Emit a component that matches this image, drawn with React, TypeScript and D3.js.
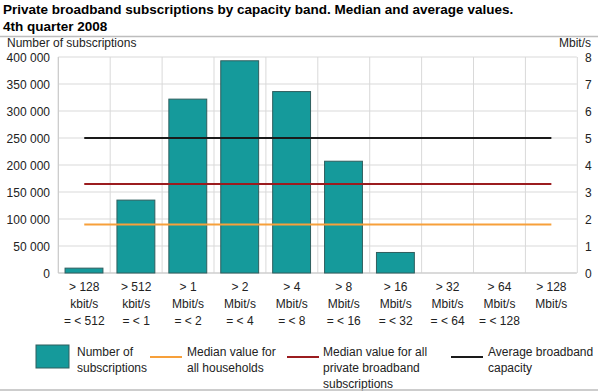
import React from "react";
import * as d3 from "d3";

const categories = [
  ["> 128", "kbit/s", "= < 512"],
  ["> 512", "kbit/s", "= < 1"],
  ["> 1", "Mbit/s", "= < 2"],
  ["> 2", "Mbit/s", "= < 4"],
  ["> 4", "Mbit/s", "= < 8"],
  ["> 8", "Mbit/s", "= < 16"],
  ["> 16", "Mbit/s", "= < 32"],
  ["> 32", "Mbit/s", "= < 64"],
  ["> 64", "Mbit/s", "= < 128"],
  ["> 128", "Mbit/s"],
];
const subscriptions = [9000, 135000, 322000, 393000, 336000, 207000, 38000, 0, 0, 0];
const medianHouseholds = 1.8;
const medianPrivate = 3.3;
const averageCapacity = 5.0;
const leftTicks = [0, 50000, 100000, 150000, 200000, 250000, 300000, 350000, 400000];
const rightTicks = [0, 1, 2, 3, 4, 5, 6, 7, 8];

const W = 598;
const H = 392;
const FONT = "'Liberation Sans', Arial, sans-serif";

export default function App() {
  const left = 58.3;
  const right = 576.8;
  const top = 57;
  const bottom = 273;
  const x = d3
    .scaleBand<number>()
    .domain(d3.range(categories.length))
    .range([left, right])
    .paddingInner(0.27)
    .paddingOuter(0.13);
  const step = x.step();
  const yL = d3.scaleLinear().domain([0, 400000]).range([bottom, top]);
  const yR = d3.scaleLinear().domain([0, 8]).range([bottom, top]);
  const fmt = (v: number) => d3.format(",")(v).replace(/,/g, " ");
  const cx = (i: number) => left + step * (i + 0.5);
  const lineStart = cx(0);
  const lineEnd = cx(categories.length - 1);

  const lines = [
    { v: medianHouseholds, color: "#f7a03a" },
    { v: medianPrivate, color: "#9b1c1f" },
    { v: averageCapacity, color: "#1a1a1a" },
  ];

  const legend = [
    { type: "rect", x: 36, tx: 77, color: "#159a9b", text: ["Number of", "subscriptions"] },
    { type: "line", x: 150, tx: 187, color: "#f7a03a", text: ["Median value for", "all households"] },
    { type: "line", x: 287, tx: 323, color: "#9b1c1f", text: ["Median value for all", "private broadband", "subscriptions"] },
    { type: "line", x: 451, tx: 488, color: "#1a1a1a", text: ["Average broadband", "capacity"] },
  ];

  return (
    <svg width={W} height={H} style={{ position: "absolute", left: 0, top: 0 }} fontFamily={FONT}>
      <rect width={W} height={H} fill="#fff" />
      <text x={3} y={14} fontSize={13.5} fontWeight="bold" fill="#000">
        Private broadband subscriptions by capacity band. Median and average values.
      </text>
      <text x={3} y={31} fontSize={13.5} fontWeight="bold" fill="#000">
        4th quarter 2008
      </text>
      <line x1={0} x2={W} y1={36.5} y2={36.5} stroke="#bdbdbd" strokeWidth={1.5} />

      <text x={7} y={47} fontSize={12} fill="#222">Number of subscriptions</text>
      <text x={591} y={47} fontSize={12} fill="#222" textAnchor="end">Mbit/s</text>

      {/* gridlines */}
      {leftTicks.map((t) => (
        <line key={"h" + t} x1={left} x2={right} y1={yL(t)} y2={yL(t)} stroke="#d9d9d9" strokeWidth={1} />
      ))}
      {d3.range(categories.length + 1).map((i) => (
        <line key={"v" + i} x1={left + step * i} x2={left + step * i} y1={top} y2={bottom} stroke="#d9d9d9" strokeWidth={1} />
      ))}
      <line x1={left} x2={left} y1={top} y2={bottom} stroke="#c8c8c8" />
      <line x1={left} x2={right} y1={bottom} y2={bottom} stroke="#c8c8c8" />

      {/* bars */}
      {subscriptions.map((v, i) =>
        v > 0 ? (
          <rect
            key={"b" + i}
            x={x(i)}
            y={yL(v)}
            width={x.bandwidth()}
            height={bottom - yL(v)}
            fill="#159a9b"
            stroke="#2f5e5e"
            strokeWidth={1}
          />
        ) : null
      )}

      {/* lines */}
      {lines.map((l, i) => (
        <line key={"l" + i} x1={lineStart} x2={lineEnd} y1={yR(l.v)} y2={yR(l.v)} stroke={l.color} strokeWidth={2} />
      ))}

      {/* left ticks */}
      {leftTicks.map((t) => (
        <text key={"lt" + t} x={50} y={yL(t) + 5} fontSize={12} textAnchor="end" fill="#222">
          {fmt(t)}
        </text>
      ))}
      {rightTicks.map((t) => (
        <text key={"rt" + t} x={585} y={yR(t) + 5} fontSize={12} fill="#222">
          {t}
        </text>
      ))}

      {/* x labels */}
      {categories.map((c, i) => (
        <text key={"x" + i} x={cx(i)} fontSize={12} textAnchor="middle" fill="#222">
          {c.map((s, j) => (
            <tspan key={j} x={cx(i)} y={291 + j * 17}>
              {s}
            </tspan>
          ))}
        </text>
      ))}

      {/* legend */}
      {legend.map((lg, i) => (
        <g key={"lg" + i}>
          {lg.type === "rect" ? (
            <rect x={lg.x} y={345} width={33} height={23} fill={lg.color} stroke="#2f5e5e" />
          ) : (
            <line x1={lg.x} x2={lg.x + 32} y1={357} y2={357} stroke={lg.color} strokeWidth={2} />
          )}
          <text fontSize={12} fill="#222">
            {lg.text.map((s, j) => (
              <tspan key={j} x={lg.tx} y={356 + j * 16}>
                {s}
              </tspan>
            ))}
          </text>
        </g>
      ))}
      <line x1={0} x2={W} y1={390} y2={390} stroke="#bdbdbd" strokeWidth={1.5} />
    </svg>
  );
}
